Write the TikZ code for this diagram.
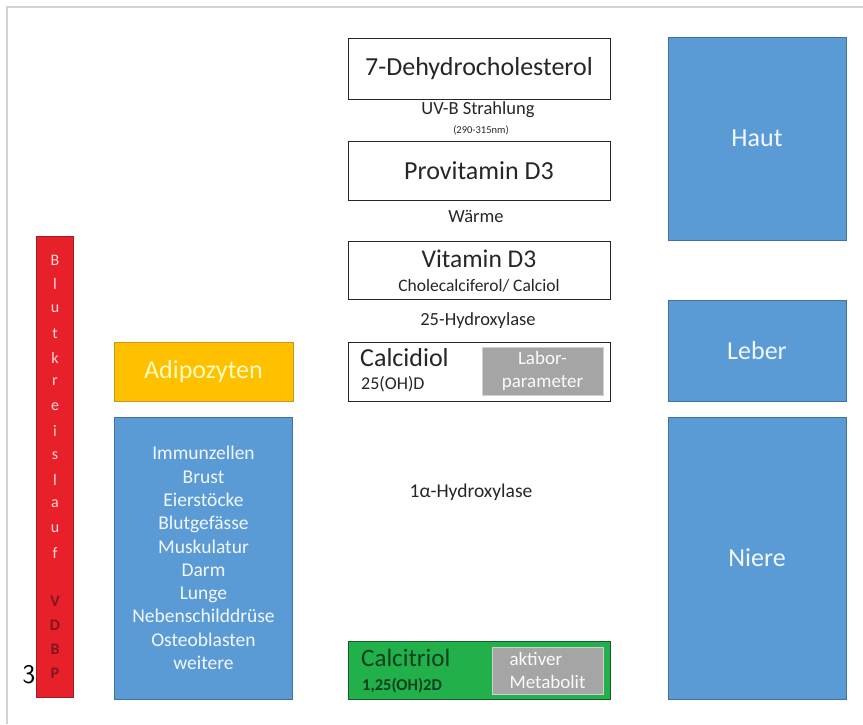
\documentclass[tikz,border=0pt]{standalone}
\usepackage{fontspec}
\setmainfont{Carlito}
\usetikzlibrary{positioning}
\definecolor{officeblue}{HTML}{5B9BD5}
\definecolor{blueline}{HTML}{41719C}
\definecolor{bloodred}{HTML}{E8202A}
\definecolor{redline}{HTML}{9E1C2A}
\definecolor{leafgreen}{HTML}{22B04B}
\definecolor{greenline}{HTML}{155A2A}
\definecolor{labgray}{HTML}{A5A5A5}
\definecolor{grayline}{HTML}{D0D0D0}
\definecolor{fatorange}{HTML}{FFC000}
\definecolor{orangeline}{HTML}{C9941A}
\definecolor{inkgray}{HTML}{262626}
\tikzset{
  stagebox/.style={draw=inkgray,fill=white,line width=0.9pt,minimum width=262pt,text=inkgray},
  organbox/.style={draw=blueline,fill=officeblue,line width=0.8pt,minimum width=178pt,text=white!92!officeblue,font=\fontsize{26}{30}\selectfont},
  labbox/.style={draw=grayline,fill=labgray,line width=0.8pt,text=white!95!labgray,font=\fontsize{19}{23}\selectfont,align=center,inner sep=0pt},
  steplabel/.style={text=inkgray,font=\fontsize{18.5}{21}\selectfont},
  bandletter/.style={text=pink!60!white,font=\fontsize{16}{18}\selectfont}
}
\begin{document}
\begin{tikzpicture}[x=1pt,y=-1pt]
  \useasboundingbox (0,0) rectangle (863,724);
  % frame of the slide
  \draw[gray!35,line width=1.2pt] (7,724) -- (7,7) -- (863,7);

  % synthesis chain in the middle
  \node[stagebox,minimum height=61pt,font=\fontsize{26}{30}\selectfont] (dehydro) at (479,68.5) {7-Dehydrocholesterol};
  \node[steplabel] (uvb) at (478,110) {UV-B Strahlung};
  \node[text=inkgray,font=\fontsize{10.5}{12}\selectfont] (nm) at (481,130) {(290-315nm)};
  \node[stagebox,minimum height=59pt,font=\fontsize{26}{30}\selectfont] (provit) at (479,170.5) {Provitamin D3};
  \node[steplabel] (waerme) at (476,216) {Wärme};
  \node[stagebox,minimum height=58pt] (vitd) at (479,270) {};
  \node[text=inkgray,font=\fontsize{25.5}{28}\selectfont] (vitdname) at (479,259) {Vitamin D3};
  \node[text=inkgray,font=\fontsize{17.5}{20}\selectfont] (vitdsub) at (479,286) {Cholecalciferol/ Calciol};
  \node[steplabel] (hydr25) at (478,321) {25-Hydroxylase};
  \node[stagebox,minimum height=59pt] (calcidiol) at (479,371.5) {};
  \node[anchor=west,text=inkgray,font=\fontsize{26}{30}\selectfont,inner sep=0pt] (calcidiolname) at (360,358) {Calcidiol};
  \node[anchor=west,text=inkgray,font=\fontsize{18}{20}\selectfont,inner sep=0pt] (calcidiolsub) at (361,384) {25(OH)D};
  \node[labbox,minimum width=121pt,minimum height=48pt] (labor) at (542.5,371) {Labor-\\parameter};
  \node[steplabel,font=\fontsize{19.5}{22}\selectfont] (hydr1a) at (471,492) {1α-Hydroxylase};
  \node[draw=greenline,fill=leafgreen,line width=0.9pt,minimum width=262pt,minimum height=58pt] (calcitriol) at (479,670) {};
  \node[anchor=west,text=greenline!70!black,font=\fontsize{25}{28}\selectfont,inner sep=0pt] (calcitriolname) at (361,658) {Calcitriol};
  \node[anchor=west,text=greenline!70!black,font=\fontsize{16.5}{19}\selectfont\bfseries,inner sep=0pt] (calcitriolsub) at (362,686) {1,25(OH)2D};
  \node[labbox,minimum width=111pt,minimum height=47pt,align=left] (aktiv) at (547.5,670.5) {aktiver\\Metabolit};

  % organs on the right
  \node[organbox,minimum height=203pt] (haut) at (757,138.5) {Haut};
  \node[organbox,minimum height=101pt] (leber) at (757,350.5) {Leber};
  \node[organbox,minimum height=282pt] (niere) at (757,558) {Niere};

  % target tissues on the left
  \node[draw=orangeline,fill=fatorange,line width=0.8pt,minimum width=179pt,minimum height=59pt,text=yellow!25!white,font=\fontsize{26}{30}\selectfont] (adipo) at (203.5,371.5) {Adipozyten};
  \node[organbox,minimum height=282pt,align=center,font=\fontsize{19.5}{23.3}\selectfont] (gewebe) at (203.5,558)
    {Immunzellen\\Brust\\Eierstöcke\\Blutgefässe\\Muskulatur\\Darm\\Lunge\\Nebenschilddrüse\\Osteoblasten\\weitere};

  % blood circulation band
  \node[draw=redline,fill=bloodred,line width=0.8pt,minimum width=37pt,minimum height=461pt] (blut) at (54.5,466.5) {};
  \foreach \c [count=\i] in {B,l,u,t,k,r,e,i,s,l,a,u,f}
    \node[bandletter] (blut\i) at (55,{260+(\i-1)*24.4}) {\c};
  \foreach \c [count=\i] in {V,D,B,P}
    \node[bandletter,text=redline!80!black,font=\fontsize{16}{18}\selectfont\bfseries] (vdbp\i) at (55,{601+(\i-1)*24}) {\c};

  \node[font=\fontsize{27}{30}\selectfont\sffamily] (nr) at (29,675) {3};
\end{tikzpicture}
\end{document}
